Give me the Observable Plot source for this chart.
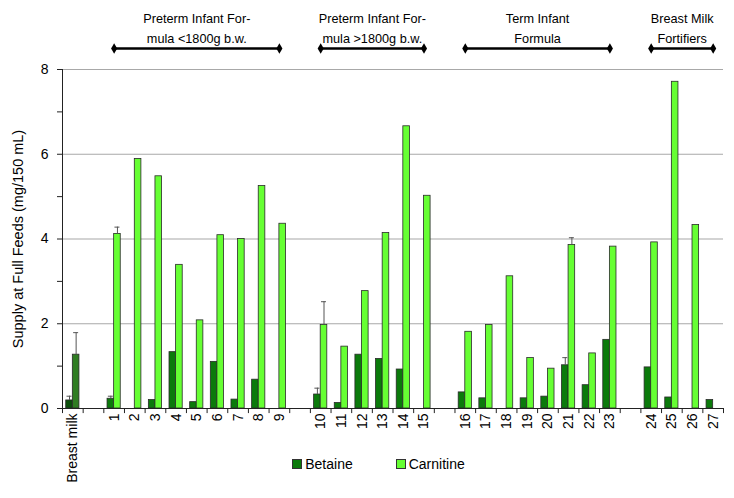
<!DOCTYPE html>
<html>
<head>
<meta charset="utf-8">
<script src="https://cdn.jsdelivr.net/npm/d3@7"></script>
<script src="https://cdn.jsdelivr.net/npm/@observablehq/plot@0.6"></script>
<style>
  body { margin: 0; background: #fff; font-family: "Liberation Sans", Arial, sans-serif; }
  #wrap { position: relative; width: 734px; height: 498px; overflow: hidden; }
  #legend { position: absolute; left: 0; top: 456px; width: 734px; display: flex; justify-content: center;
            gap: 43px; padding-left: 23px; box-sizing: border-box; font-size: 14px; color: #000; }
  .item { display: flex; align-items: center; gap: 3px; }
  .sw { width: 8px; height: 8px; border: 1px solid #333; }
</style>
</head>
<body>
<div id="wrap"><div id="legend"></div></div>
<script>
// ---- data ----
const categories = ["Breast milk", " ", "1", "2", "3", "4", "5", "6", "7", "8", "9", "  ",
  "10", "11", "12", "13", "14", "15", "   ", "16", "17", "18", "19", "20", "21", "22", "23", "    ",
  "24", "25", "26", "27"];
const betaine = [0.19, null, 0.23, 0, 0.20, 1.33, 0.15, 1.10, 0.21, 0.68, 0, null,
  0.33, 0.13, 1.27, 1.17, 0.92, 0, null, 0.38, 0.24, 0, 0.24, 0.28, 1.02, 0.55, 1.62, null,
  0.97, 0.26, 0, 0.20];
const carnitine = [1.27, null, 4.12, 5.89, 5.48, 3.39, 2.08, 4.09, 4.00, 5.25, 4.36, null,
  1.97, 1.46, 2.77, 4.14, 6.66, 5.02, null, 1.81, 1.97, 3.12, 1.19, 0.94, 3.86, 1.30, 3.82, null,
  3.92, 7.71, 4.33, 0];
const errorCategories = ["Breast milk", "1", "10", "21"];
const betaineErrTop = [0.29, 0.29, 0.48, 1.20];
const carnitineErrTop = [1.79, 4.28, 2.52, 4.03];
const groupLabels = ["Preterm Infant For-\nmula <1800g b.w.", "Preterm Infant For-\nmula >1800g b.w.",
  "Term Infant\nFormula", "Breast Milk\nFortifiers"];
const groupFirst = ["1", "10", "16", "24"];
const groupLast = ["9", "15", "23", "27"];
const yTicks = [0, 1, 2, 3, 4, 5, 6, 7, 8];
const yGrid = [2, 4, 6, 8];
const seriesNames = ["Betaine", "Carnitine"];
const yLabel = "Supply at Full Feeds (mg/150 mL)";

// ---- styles ----
const colBetaine = "#0b7a0b", colCarnitine = "#66ff33";
const colBMBetaine = "#0a4f0a", colBMCarnitine = "#2f7d22";

const W = 734, H = 498, mL = 62, mR = 11, mT = 69, mB = 90;
const bw = (W - mL - mR) / categories.length;
const barW = 6.6;

const rows = categories.map((c, i) => ({cat: c, betaine: betaine[i], carnitine: carnitine[i]}));
const betRows = rows.filter(d => d.betaine > 0);
const carRows = rows.filter(d => d.carnitine > 0);
const errRows = errorCategories.map((c, i) => ({
  cat: c,
  bVal: rows.find(r => r.cat === c).betaine, bTop: betaineErrTop[i],
  cVal: rows.find(r => r.cat === c).carnitine, cTop: carnitineErrTop[i]
}));
const groups = groupLabels.map((label, i) => {
  const a = categories.indexOf(groupFirst[i]), b = categories.indexOf(groupLast[i]);
  const mid = (a + b) / 2;
  return {label, first: groupFirst[i], last: groupLast[i],
          anchor: categories[Math.floor(mid)], half: mid !== Math.floor(mid)};
});
const groupEnds = groups.flatMap(g => [g.first, g.last]);

const textCommon = {x: "anchor", y: () => 8, text: "label", dy: -60, lineAnchor: "top",
  lineHeight: 1.55, fontSize: 12.7, textAnchor: "middle", fill: "#000"};

const chart = Plot.plot({
  width: W, height: H,
  marginLeft: mL, marginRight: mR, marginTop: mT, marginBottom: mB,
  style: {fontFamily: "'Liberation Sans', Arial, sans-serif", fontSize: "14px", color: "#000", background: "#fff", overflow: "visible"},
  x: {type: "band", domain: categories, padding: 0, round: false, axis: null},
  y: {domain: [0, 8], axis: null},
  marks: [
    Plot.ruleY(yGrid, {stroke: "#a8a8a8", strokeWidth: 1.2}),
    Plot.barY(betRows, {x: "cat", y: "betaine",
      fill: d => d.cat === "Breast milk" ? colBMBetaine : colBetaine,
      stroke: "#2a2a2a", strokeWidth: 0.8, insetLeft: bw / 2 - barW, insetRight: bw / 2}),
    Plot.barY(carRows, {x: "cat", y: "carnitine",
      fill: d => d.cat === "Breast milk" ? colBMCarnitine : colCarnitine,
      stroke: "#2a2a2a", strokeWidth: 0.8, insetLeft: bw / 2, insetRight: bw / 2 - barW}),
    // error bars
    Plot.ruleX(errRows, {x: "cat", y1: "bVal", y2: "bTop", dx: -barW / 2, stroke: "#555", strokeWidth: 1}),
    Plot.tickY(errRows, {x: "cat", y: "bTop", dx: -barW / 2, insetLeft: bw / 2 - 2.5, insetRight: bw / 2 - 2.5, stroke: "#555", strokeWidth: 1}),
    Plot.ruleX(errRows, {x: "cat", y1: "cVal", y2: "cTop", dx: barW / 2, stroke: "#555", strokeWidth: 1}),
    Plot.tickY(errRows, {x: "cat", y: "cTop", dx: barW / 2, insetLeft: bw / 2 - 2.5, insetRight: bw / 2 - 2.5, stroke: "#555", strokeWidth: 1}),
    // axes lines
    Plot.ruleY([0], {stroke: "#222", strokeWidth: 1}),
    Plot.ruleX([categories[0]], {y1: 0, y2: 8, dx: -bw / 2, stroke: "#222", strokeWidth: 1}),
    // x boundary ticks
    Plot.ruleX(categories, {x: d => d, y1: 0, y2: -0.12, dx: -bw / 2, stroke: "#222", strokeWidth: 1}),
    Plot.ruleX([categories[categories.length - 1]], {y1: 0, y2: -0.12, dx: bw / 2, stroke: "#222", strokeWidth: 1}),
    Plot.axisX({tickSize: 0, tickRotate: -90, tickPadding: 5, tickFormat: d => d.trim(), fontSize: 14}),
    Plot.axisY({ticks: yTicks, tickSize: 5, tickPadding: 9, tickFormat: d => d % 2 === 0 ? d : "", fontSize: 14, stroke: "#222"}),
    Plot.text([yLabel], {frameAnchor: "left", rotate: -90, dx: -44, fontSize: 14.5, textAnchor: "middle"}),
    // group annotations
    Plot.link(groups, {x1: "first", x2: "last", y1: () => 8, y2: () => 8, dy: -21, stroke: "#000", strokeWidth: 2.5}),
    Plot.dot(groupEnds, {x: d => d, y: () => 8, dy: -21, r: 3.2, symbol: "diamond", fill: "#000", stroke: "none"}),
    Plot.text(groups.filter(g => !g.half), {...textCommon, dx: 0}),
    Plot.text(groups.filter(g => g.half), {...textCommon, dx: bw / 2})
  ]
});

document.getElementById("wrap").prepend(chart);

// legend
const legend = document.getElementById("legend");
[[seriesNames[0], colBetaine], [seriesNames[1], colCarnitine]].forEach(([name, col]) => {
  const it = document.createElement("div");
  it.className = "item";
  it.innerHTML = `<span class="sw" style="background:${col}"></span><span>${name}</span>`;
  legend.appendChild(it);
});
</script>
</body>
</html>
